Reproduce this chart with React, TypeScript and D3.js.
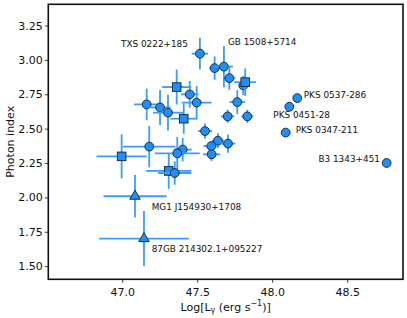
import React from "react";
import * as d3 from "d3";

// ---- data ----
const logL = [
  47.515, 47.613, 47.675, 47.711, 47.804, 47.817, 47.764, 47.70, 47.831,
  47.447, 47.493, 47.36, 47.16, 47.249, 47.302, 47.407, 47.549, 47.635,
  47.591, 47.702, 47.593, 47.177, 47.40, 47.364, 46.993, 47.307, 47.347,
  47.082, 47.142, 48.164, 48.111, 48.087, 48.76,
];
const photonIndex = [
  3.049, 2.944, 2.955, 2.871, 2.818, 2.842, 2.697, 2.593, 2.593,
  2.753, 2.693, 2.806, 2.68, 2.658, 2.62, 2.576, 2.486, 2.416,
  2.377, 2.395, 2.317, 2.373, 2.351, 2.324, 2.302, 2.196, 2.181,
  2.012, 1.704, 2.726, 2.663, 2.475, 2.254,
];
const logLErr = [
  0.055, 0.036, 0.06, 0.04, 0.03, 0.073, 0.052, 0.044, 0.04,
  0.058, 0.1, 0.097, 0.085, 0.07, 0.1, 0.09, 0.047, 0.04,
  0.053, 0.05, 0.058, 0.175, 0.06, 0.15, 0.167, 0.15, 0.11,
  0.21, 0.3, 0, 0, 0, 0,
];
const indexErr = [
  0.115, 0.085, 0.15, 0.085, 0.07, 0.1, 0.087, 0.048, 0.048,
  0.097, 0.12, 0.127, 0.115, 0.127, 0.13, 0.11, 0.055, 0.055,
  0.036, 0.067, 0.048, 0.15, 0.085, 0.12, 0.16, 0.13, 0.085,
  0.155, 0.2, 0, 0, 0, 0,
];
const markerShape = [
  "o", "o", "o", "o", "o", "s", "o", "o", "o",
  "o", "o", "s", "o", "o", "o", "s", "o", "o",
  "o", "o", "o", "o", "o", "o", "s", "s", "o",
  "^", "^", "o", "o", "o", "o",
];
const labelNames = [
  "TXS 0222+185", "GB 1508+5714", "PKS 0537-286", "PKS 0451-28",
  "PKS 0347-211", "B3 1343+451", "MG1 J154930+1708", "87GB 214302.1+095227",
];
const labelPoint = [0, 2, 29, 30, 31, 32, 27, 28];
const xTicks = [47.0, 47.5, 48.0, 48.5];
const yTicks = [1.5, 1.75, 2.0, 2.25, 2.5, 2.75, 3.0, 3.25];

// ---- layout / style ----
const W = 407, H = 318;
const L = 48.3, R = 403, T = 4.3, B = 279.3;
const labelLayout = [
  { dx: -12, dy: -10, anchor: "end" },
  { dx: 4, dy: -25, anchor: "start" },
  { dx: 6.5, dy: -2.7, anchor: "start" },
  { dx: -16, dy: 8.7, anchor: "start" },
  { dx: 10, dy: -3, anchor: "start" },
  { dx: -6.7, dy: -4, anchor: "end" },
  { dx: 16.7, dy: 10.7, anchor: "start" },
  { dx: 7.7, dy: 10, anchor: "start" },
];
const FILL = "#1f8ff7";
const ERR = "#3a9cff";
const EDGE = "#0d2238";
const FONT = "DejaVu Sans, sans-serif";

export default function App() {
  const x = d3.scaleLinear().domain([46.504, 48.869]).range([L, R]);
  const y = d3.scaleLinear().domain([1.408, 3.408]).range([B, T]);
  const tri = d3.symbol().type(d3.symbolTriangle).size(48)();

  return (
    <svg width={W} height={H} style={{ position: "absolute", left: 0, top: 0, background: "#fff" }}>
      {/* points */}
      {logL.map((lx, i) => {
        const cx = x(lx), cy = y(photonIndex[i]);
        const ex = logLErr[i], ey = indexErr[i];
        return (
          <g key={i}>
            {ex > 0 && (
              <line x1={x(lx - ex)} x2={x(lx + ex)} y1={cy} y2={cy} stroke={ERR} strokeWidth={1.8} />
            )}
            {ey > 0 && (
              <line x1={cx} x2={cx} y1={y(photonIndex[i] - ey)} y2={y(photonIndex[i] + ey)} stroke={ERR} strokeWidth={1.8} />
            )}
            {markerShape[i] === "o" && (
              <circle cx={cx} cy={cy} r={4.4} fill={FILL} stroke={EDGE} strokeWidth={0.9} />
            )}
            {markerShape[i] === "s" && (
              <rect x={cx - 4.3} y={cy - 4.3} width={8.6} height={8.6} fill={FILL} stroke={EDGE} strokeWidth={0.9} />
            )}
            {markerShape[i] === "^" && (
              <path d={tri as string} transform={`translate(${cx},${cy})`} fill={FILL} stroke={EDGE} strokeWidth={0.9} />
            )}
          </g>
        );
      })}
      {/* annotations */}
      {labelNames.map((name, k) => {
        const p = labelPoint[k];
        const lay = labelLayout[k];
        return (
          <text key={name} x={x(logL[p]) + lay.dx} y={y(photonIndex[p]) + lay.dy}
            textAnchor={lay.anchor} dominantBaseline="central"
            fontFamily={FONT} fontSize={8.9} fill="#111">{name}</text>
        );
      })}
      {/* frame */}
      <rect x={L} y={T} width={R - L} height={B - T} fill="none" stroke="#111" strokeWidth={1.6} />
      {/* x axis ticks */}
      {xTicks.map((t) => (
        <g key={t}>
          <line x1={x(t)} x2={x(t)} y1={B} y2={B + 3.5} stroke="#111" strokeWidth={0.8} />
          <text x={x(t)} y={B + 13} textAnchor="middle" dominantBaseline="central" fontFamily={FONT} fontSize={11} fill="#111">
            {t.toFixed(1)}
          </text>
        </g>
      ))}
      {/* y axis ticks */}
      {yTicks.map((t) => (
        <g key={t}>
          <line x1={L - 3.5} x2={L} y1={y(t)} y2={y(t)} stroke="#111" strokeWidth={0.8} />
          <text x={L - 5.5} y={y(t)} textAnchor="end" dominantBaseline="central" fontFamily={FONT} fontSize={11} fill="#111">
            {t.toFixed(2)}
          </text>
        </g>
      ))}
      {/* axis labels */}
      <text x={(L + R) / 2} y={307} textAnchor="middle" dominantBaseline="central" fontFamily={FONT} fontSize={11} fill="#111">
        Log[L<tspan fontSize={8} dy={2.5}>γ</tspan><tspan dy={-2.5}> (erg s</tspan>
        <tspan fontSize={8} dy={-4}>−1</tspan><tspan dy={4}>)]</tspan>
      </text>
      <text transform={`translate(10,${(T + B) / 2}) rotate(-90)`} textAnchor="middle" dominantBaseline="central"
        fontFamily={FONT} fontSize={11} fill="#111">Photon index</text>
    </svg>
  );
}
